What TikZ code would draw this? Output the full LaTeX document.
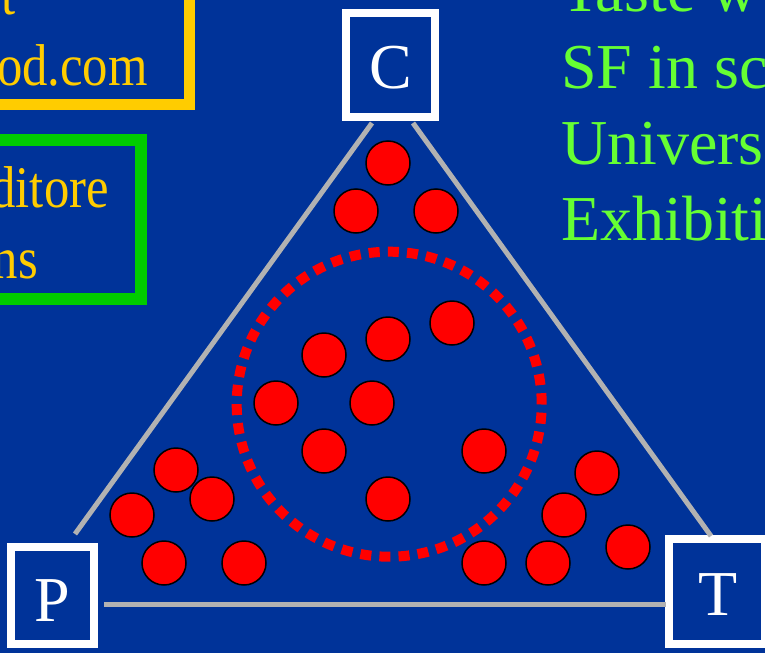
\documentclass[tikz,border=0pt]{standalone}
\usepackage{fontspec}
\setmainfont{Liberation Serif}
\newfontfamily\narrowserif[FakeStretch=0.86]{Liberation Serif}
\definecolor{slideblue}{HTML}{003399}
\definecolor{boxyellow}{HTML}{FFCC00}
\definecolor{boxgreen}{HTML}{00CC00}
\definecolor{textgreen}{HTML}{66FF33}
\definecolor{edgegray}{HTML}{B2B2B2}
\begin{document}
\begin{tikzpicture}[x=1pt, y=-1pt,
  frame/.style={draw=white, line width=8pt, fill=slideblue, inner sep=0pt},
  letter/.style={text=white, font=\fontsize{64}{77}\selectfont, inner sep=0pt},
  side/.style={draw=edgegray, line width=5pt},
  dot/.style={circle, fill=red, draw=black, line width=1.5pt, minimum size=44pt, inner sep=0pt},
  ring/.style={draw=red, line width=10pt, dash pattern=on 11pt off 8.16pt},
  yellowtext/.style={text=boxyellow, font=\narrowserif\fontsize{59}{71}\selectfont, inner sep=0pt, anchor=base east},
  greentext/.style={text=textgreen, font=\fontsize{64}{77}\selectfont, inner sep=0pt, anchor=base west}]
\useasboundingbox (0,0) rectangle (765,653);
\clip (0,0) rectangle (765,653);
\fill[slideblue] (0,0) rectangle (765,653);

% framed text blocks on the left
\draw[boxyellow, line width=11pt] (-40,-40) rectangle (189.5,104.5);
\node[yellowtext] (y1) at (16,14) {t};
\node[yellowtext] (y2) at (148,85) {od.com};
\draw[boxgreen, line width=12pt] (-40,140) rectangle (141,299);
\node[yellowtext] (g1) at (109,207) {ditore};
\node[yellowtext] (g2) at (38,278) {ns};

% list on the right
\node[greentext] (r1) at (561,11) {Taste w};
\node[greentext] (r2) at (561,88) {SF in sc};
\node[greentext] (r3) at (561,164) {Univers};
\node[greentext] (r4) at (561,240) {Exhibiti};

% corner boxes
\node[frame, minimum width=89pt, minimum height=104pt] (Cbox) at (390.5,65) {};
\node[letter] (C) at (391,67.5) {C};
\node[frame, minimum width=83pt, minimum height=97pt] (Pbox) at (52.5,595.5) {};
\node[letter] (P) at (52.5,600.5) {P};
\node[frame, minimum width=96pt, minimum height=105pt] (Tbox) at (717,591.5) {};
\node[letter] (T) at (718,594.5) {T};

% triangle sides
\coordinate (cl) at (372,123);
\coordinate (cr) at (413,123);
\coordinate (pt) at (75,534);
\coordinate (pr) at (104,604.5);
\coordinate (tt) at (711,536);
\coordinate (tl) at (666,604.5);
\draw[side] (cl) -- (pt);
\draw[side] (cr) -- (tt);
\draw[side] (pr) -- (tl);

% dotted ring
\draw[ring] (389.2,404.2) circle[radius=152.5pt];

% red dots
\foreach \x/\y [count=\i] in {388/163, 356/211, 436/211, 452/323, 388/339,
  324/355, 276/403, 372/403, 324/451, 484/451, 388/499, 176/470, 212/499,
  132/515, 164/563, 244/563, 597/473, 564/515, 628/547, 484/563, 548/563}
  \node[dot] (d\i) at (\x,\y) {};
\end{tikzpicture}
\end{document}
